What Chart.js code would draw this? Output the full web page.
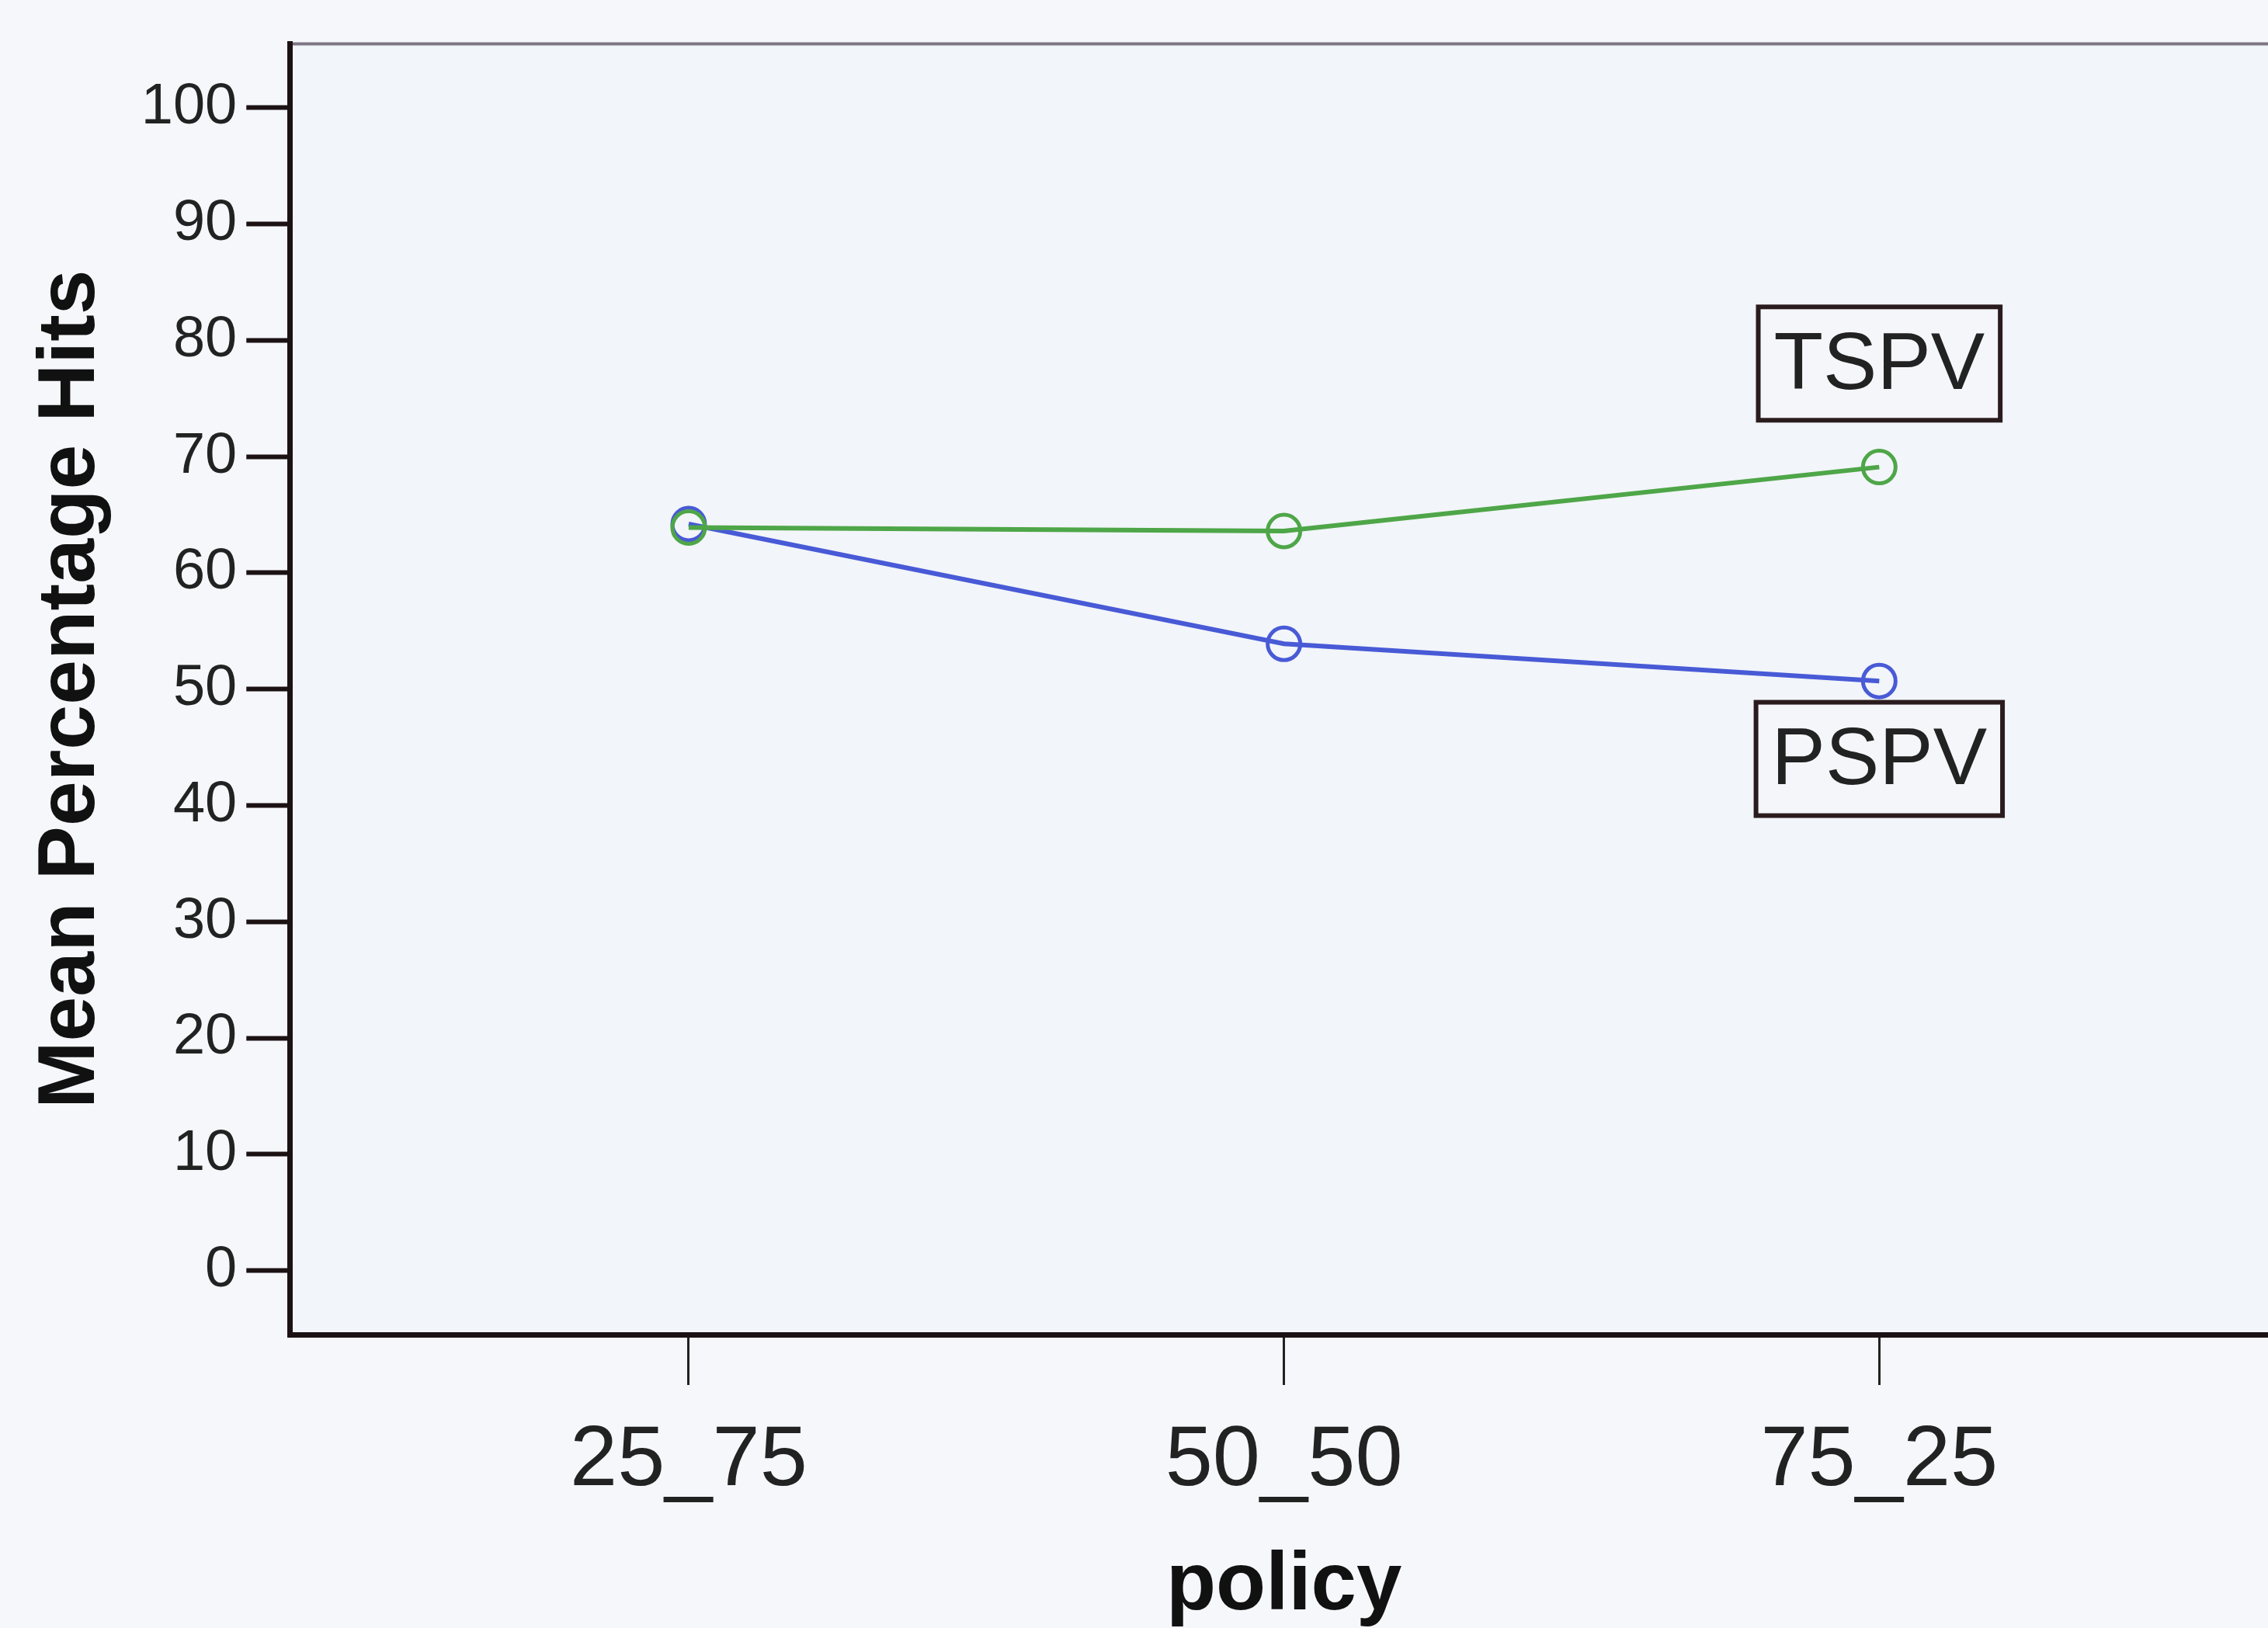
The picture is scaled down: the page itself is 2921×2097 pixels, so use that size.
<!DOCTYPE html>
<html>
<head>
<meta charset="utf-8">
<script src="https://cdn.jsdelivr.net/npm/chart.js@4.4.0/dist/chart.umd.min.js"></script>
<style>
  html, body { margin: 0; padding: 0; background: #f5f7fb; overflow: hidden; }
  #wrap { width: 2960px; height: 2097px; }
</style>
</head>
<body>
<div id="wrap"><canvas id="myChart"></canvas></div>
<script>
const policies = ['25_75', '50_50', '75_25']
const pspv = [64.2, 53.9, 50.7]
const tspv = [63.9, 63.6, 69.1]
const yTicks = [0, 10, 20, 30, 40, 50, 60, 70, 80, 90, 100]

// line labels, placed in data units
const labelNames = ['TSPV', 'PSPV']
const labelX = [2, 2]
const labelY = [78, 44]

const toPoints = (arr) => arr.map((v, i) => ({ x: i, y: v }))

const plotFrame = {
    id: 'plotFrame',
    beforeDraw: (chart) => {
        const { ctx, chartArea } = chart
        ctx.save()
        ctx.fillStyle = '#f2f5f9'
        ctx.fillRect(chartArea.left, chartArea.top, chartArea.right - chartArea.left, chartArea.bottom - chartArea.top)
        ctx.strokeStyle = '#7d7584'
        ctx.lineWidth = 4
        ctx.beginPath()
        ctx.moveTo(chartArea.left, chartArea.top)
        ctx.lineTo(chartArea.right, chartArea.top)
        ctx.stroke()
        ctx.restore()
    },
    afterDraw: (chart) => {
        const { ctx, scales } = chart
        ctx.save()
        ctx.font = '104px "Liberation Sans", Arial, sans-serif'
        ctx.textAlign = 'center'
        ctx.textBaseline = 'middle'
        labelNames.forEach((name, i) => {
            const cx = scales.x.getPixelForValue(labelX[i])
            const cy = scales.y.getPixelForValue(labelY[i])
            const w = ctx.measureText(name).width + 40
            const h = 146
            ctx.fillStyle = '#f4f6fa'
            ctx.fillRect(cx - w / 2, cy - h / 2, w, h)
            ctx.strokeStyle = '#2a1c1e'
            ctx.lineWidth = 6
            ctx.strokeRect(cx - w / 2, cy - h / 2, w, h)
            ctx.fillStyle = '#222'
            ctx.fillText(name, cx, cy + 4)
        })
        ctx.restore()
    }
}

const dataConfig = {
    datasets: [{
        label: 'TSPV',
        data: toPoints(tspv),
        borderColor: 'rgb(78, 166, 72)',
        pointBorderColor: 'rgb(78, 166, 72)',
        backgroundColor: 'transparent',
        pointBackgroundColor: 'transparent',
        borderWidth: 6,
        pointRadius: 21,
        pointBorderWidth: 5
    }, {
        label: 'PSPV',
        data: toPoints(pspv),
        borderColor: 'rgb(72, 90, 214)',
        pointBorderColor: 'rgb(72, 90, 214)',
        backgroundColor: 'transparent',
        pointBackgroundColor: 'transparent',
        borderWidth: 6,
        pointRadius: 21,
        pointBorderWidth: 5
    }]
}

const config = {
    type: 'line',
    data: dataConfig,
    plugins: [plotFrame],
    options: {
        responsive: true,
        maintainAspectRatio: false,
        animation: false,
        layout: { padding: { left: 30, top: 52, right: 24, bottom: 0 } },
        plugins: {
            legend: { display: false },
            tooltip: { enabled: false }
        },
        scales: {
            x: {
                type: 'linear',
                min: -0.67,
                max: 2.67,
                afterBuildTicks: (s) => { s.ticks = policies.map((p, i) => ({ value: i })) },
                ticks: {
                    callback: (v) => policies[v],
                    font: { family: '"Liberation Sans", Arial, sans-serif', size: 110 },
                    color: '#222',
                    padding: 33,
                    maxRotation: 0
                },
                grid: { drawOnChartArea: false, tickLength: 65, tickWidth: 3, tickColor: '#222' },
                border: { color: '#1c1214', width: 7 },
                title: {
                    display: true,
                    text: 'policy',
                    font: { family: '"Liberation Sans", Arial, sans-serif', size: 105, weight: 'bold', lineHeight: 1.0 },
                    color: '#111',
                    padding: { top: 10, bottom: 0 }
                }
            },
            y: {
                min: -5.5,
                max: 105.5,
                afterBuildTicks: (s) => { s.ticks = yTicks.map(v => ({ value: v })) },
                ticks: {
                    font: { family: '"Liberation Sans", Arial, sans-serif', size: 74 },
                    color: '#222',
                    padding: 12
                },
                grid: { drawOnChartArea: false, tickLength: 56, tickWidth: 6, tickColor: '#1c1214' },
                border: { color: '#1c1214', width: 7 },
                title: {
                    display: true,
                    text: 'Mean Percentage Hits',
                    font: { family: '"Liberation Sans", Arial, sans-serif', size: 104, weight: 'bold' },
                    color: '#111',
                    padding: { top: 0, bottom: 15 }
                }
            }
        }
    }
}

const myChart = new Chart(document.getElementById('myChart'), config)
</script>
</body>
</html>
